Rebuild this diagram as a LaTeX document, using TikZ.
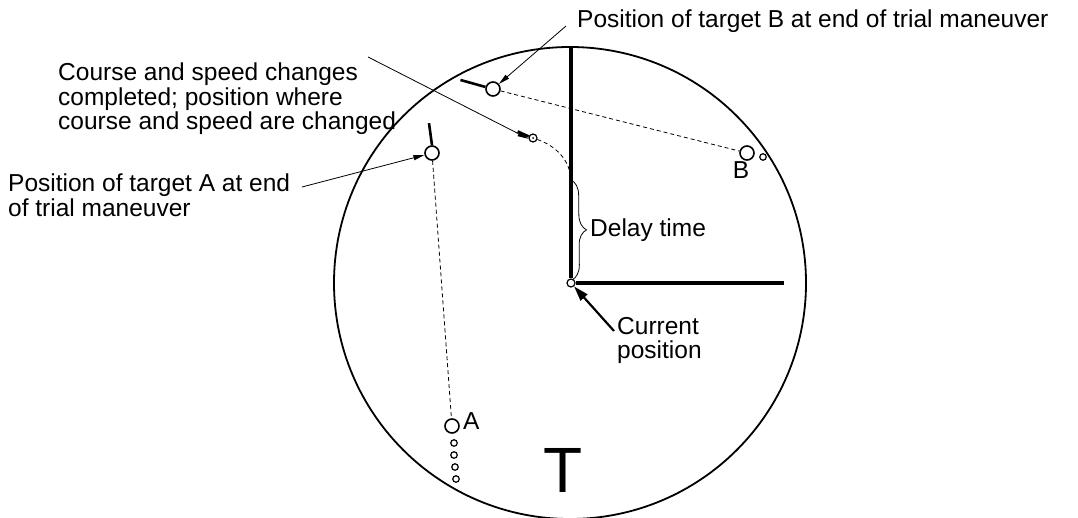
\documentclass[tikz,border=0pt]{standalone}
\usepackage{fontspec}
\setmainfont{Liberation Sans}
\usetikzlibrary{arrows.meta,decorations.pathreplacing}

\begin{document}
\begin{tikzpicture}[x=1pt,y=-1pt,
  txt/.style={inner sep=0pt,font=\fontsize{24.5}{24.5}\selectfont,align=left},
  tgt/.style={circle,draw,line width=1.6pt,minimum size=14pt,inner sep=0pt},
  echo/.style={circle,draw,line width=1.2pt,minimum size=6.5pt,inner sep=0pt},
  hdg/.style={line width=2.6pt},
  ptr/.style={-{Triangle[length=11pt,width=5pt]},line width=.8pt},
  trk/.style={dash pattern=on 4pt off 3pt,line width=.8pt},
  ownline/.style={line width=3.2pt}]
\useasboundingbox (0,0) rectangle (1078,518);
\draw[line width=1.8pt] (570,283) circle[radius=236];
\node[echo,minimum size=8pt] (own) at (571,283) {};
\coordinate (top) at (571,48);
\coordinate (hEnd) at (784,283);
\draw[ownline] (own.north) -- (top);
\draw[ownline] (own.east) -- (hEnd);
\node[tgt] (tgtB) at (493,89) {};
\draw[hdg] (tgtB.165) -- ++(-25,-7);
\node[tgt] (endB) at (747,153) {};
\node[echo] (echoB) at (763,157) {};
\node[txt] (labB) at (741,170) {B};
\draw[trk] (tgtB) -- (endB);
\node[tgt] (tgtA) at (432,153) {};
\draw[hdg] (tgtA.north) -- ++(-3,-22);
\node[tgt] (endA) at (452,426) {};
\node[txt,anchor=west] (labA) at (463,421) {A};
\foreach \i/\xx/\yy in {1/454/443,2/454/455,3/455/467,4/456/479}
  \node[echo] (echoA\i) at (\xx,\yy) {};
\draw[trk] (tgtA) -- (endA);
\node[echo,minimum size=8pt] (crsChg) at (533,138) {};
\fill (crsChg) circle[radius=1pt];
\draw[hdg] (crsChg.160) -- ++(-11,-5);
\coordinate (brTop) at (571,180);
\coordinate (brBot) at (572,280);
\draw[trk] (crsChg) .. controls (556,146) and (570,160) .. (brTop);
\draw[decorate,decoration={brace,amplitude=15pt},line width=.8pt] (brTop) -- (brBot);
\node[txt,anchor=west] (delay) at (590,230) {Delay time};
\node[txt,anchor=north west] (curTxt) at (617,317) {Current\\position};
\coordinate (curTail) at (614,331);
\draw[-{Triangle[length=15pt,width=9pt]},line width=2.2pt] (curTail) -- (own);
\node[txt,anchor=north west] (crsTxt) at (58,63) {Course and speed changes\\completed; position where\\course and speed are changed};
\coordinate (crsTail) at (368,57);
\draw[ptr] (crsTail) -- (crsChg.190);
\node[txt,anchor=base west] (posB) at (577,28) {Position of target B at end of trial maneuver};
\coordinate (posBTail) at (566,26);
\draw[ptr] (posBTail) -- (tgtB);
\node[txt,anchor=north west] (posA) at (8,174) {Position of target A at end\\of trial maneuver};
\coordinate (posATail) at (302,187);
\draw[ptr] (posATail) -- (tgtA);
\node[inner sep=0pt,font=\fontsize{64}{70}\selectfont] (tMark) at (563,470) {T};
\end{tikzpicture}
\end{document}
